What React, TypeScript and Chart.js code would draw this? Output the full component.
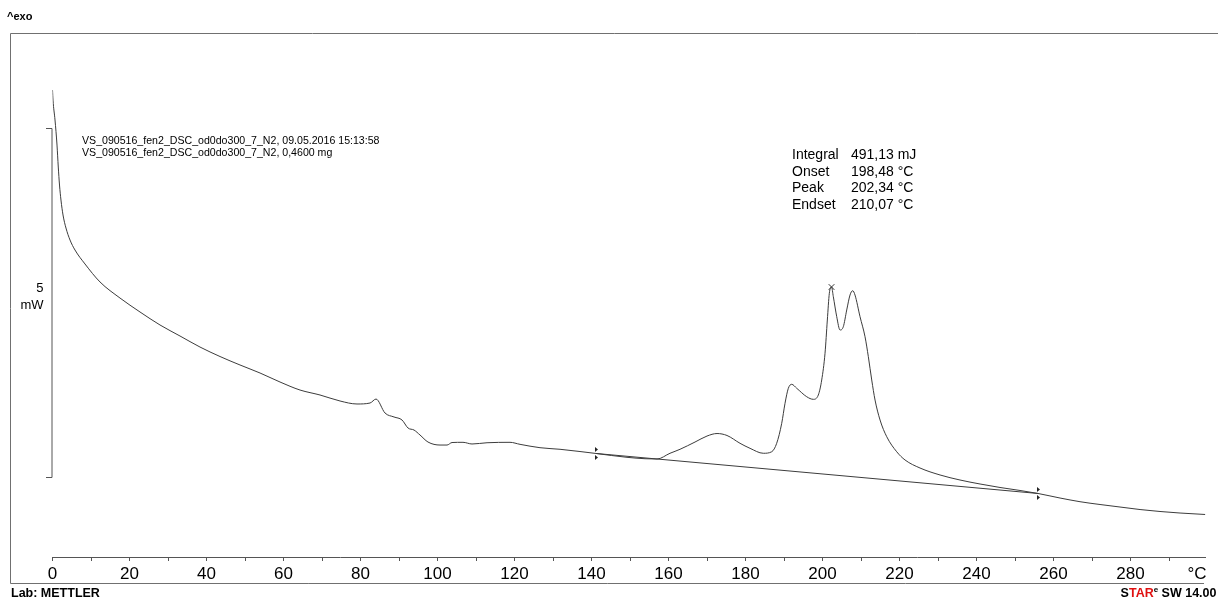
import React, { useEffect, useRef } from "react";
import { Chart, registerables } from "chart.js";

Chart.register(...registerables);

// Temperature (°C) and heat flow (mW, relative)
const temps: number[] = [
  0.0, 0.13, 0.65, 1.17, 1.5, 1.82, 2.2, 2.73, 3.5, 4.55, 5.84, 8.44, 12.34, 17.53, 22.73, 27.92,
  33.12, 38.31, 43.51, 48.7, 53.9, 59.09, 64.29, 69.48, 74.68, 79.09, 82.47, 84.03, 86.36, 88.7,
  90.78, 92.34, 93.9, 95.45, 97.53, 100.65, 102.47, 103.77, 106.62, 108.96, 112.86, 118.83, 121.43,
  126.62, 131.82, 137.01, 141.17, 149.22, 153.9, 157.01, 160.39, 162.99, 166.88, 170.0, 172.6,
  175.19, 178.57, 181.17, 184.62, 186.81, 188.1, 189.4, 190.26, 191.12, 192.0, 193.3, 195.9,
  197.61, 198.91, 199.79, 200.65, 201.25, 201.77, 202.34, 202.81, 203.69, 204.55, 205.4, 206.29,
  207.14, 207.84, 208.44, 209.74, 211.04, 211.9, 212.78, 213.64, 214.94, 216.68, 219.27, 221.43,
  225.32, 230.52, 235.71, 240.91, 246.1, 251.3, 255.97, 261.69, 266.88, 272.08, 277.27, 282.47,
  287.66, 292.86, 299.4,
];
const heatFlow: number[] = [
  5.544, 5.4, 5.115, 4.756, 4.441, 4.183, 3.968, 3.754, 3.567, 3.395, 3.252, 3.052, 2.794, 2.564,
  2.364, 2.178, 2.02, 1.862, 1.726, 1.605, 1.49, 1.361, 1.246, 1.175, 1.089, 1.046, 1.06, 1.117,
  0.917, 0.86, 0.817, 0.702, 0.673, 0.602, 0.501, 0.458, 0.458, 0.494, 0.497, 0.473, 0.491, 0.497,
  0.468, 0.42, 0.397, 0.365, 0.337, 0.282, 0.262, 0.258, 0.34, 0.397, 0.501, 0.587, 0.623, 0.595,
  0.483, 0.411, 0.34, 0.362, 0.483, 0.769, 1.056, 1.271, 1.328, 1.271, 1.15, 1.113, 1.175, 1.39,
  1.772, 2.249, 2.632, 2.722, 2.583, 2.297, 2.106, 2.153, 2.393, 2.607, 2.669, 2.607, 2.297, 2.01,
  1.724, 1.39, 1.103, 0.817, 0.577, 0.362, 0.244, 0.129, 0.029, -0.043, -0.1, -0.15, -0.193,
  -0.236, -0.301, -0.354, -0.394, -0.43, -0.466, -0.494, -0.516, -0.537,
];

// Integration baseline limits [°C, mW]
const baselineTemps: number[] = [141.17, 255.97];
const baselineFlow: number[] = [0.337, -0.236];

// Peak marker
const peakTemp: number[] = [202.34];
const peakFlow: number[] = [2.722];

// Scale bar (mW)
const scaleBar: number[] = [0, 5];

const headerLines: string[] = [
  "VS_090516_fen2_DSC_od0do300_7_N2, 09.05.2016 15:13:58",
  "VS_090516_fen2_DSC_od0do300_7_N2, 0,4600 mg",
];
const resultLabels: string[] = ["Integral", "Onset", "Peak", "Endset"];
const resultValues: string[] = ["491,13 mJ", "198,48 °C", "202,34 °C", "210,07 °C"];

const FONT = "'Liberation Sans', Arial, sans-serif";

const overlay = {
  id: "overlay",
  afterDraw(chart: any) {
    const ctx: CanvasRenderingContext2D = chart.ctx;
    const xs = chart.scales.x;
    const ys = chart.scales.y;
    ctx.save();
    // frame
    ctx.strokeStyle = "#707070";
    ctx.lineWidth = 1;
    ctx.beginPath();
    ctx.moveTo(1218, 33.5);
    ctx.lineTo(10.5, 33.5);
    ctx.lineTo(10.5, 583.5);
    ctx.lineTo(1204, 583.5);
    ctx.stroke();

    ctx.fillStyle = "#000";
    ctx.textBaseline = "middle";
    ctx.textAlign = "left";
    ctx.font = `bold 11px ${FONT}`;
    ctx.fillText("^exo", 7, 17);

    ctx.font = `10.6px ${FONT}`;
    headerLines.forEach((t, i) => ctx.fillText(t, 82, 141 + i * 12));

    ctx.font = `14px ${FONT}`;
    resultLabels.forEach((t, i) => {
      ctx.fillText(t, 792, 155.5 + i * 16.4);
      ctx.fillText(resultValues[i], 851, 155.5 + i * 16.4);
    });

    // scale bar
    const bx = xs.left - 0.5;
    const yTop = Math.round(ys.getPixelForValue(scaleBar[1])) + 0.5;
    const yBot = Math.round(ys.getPixelForValue(scaleBar[0])) + 0.5;
    ctx.strokeStyle = "#555";
    ctx.beginPath();
    ctx.moveTo(bx - 6, yTop);
    ctx.lineTo(bx, yTop);
    ctx.lineTo(bx, yBot);
    ctx.lineTo(bx - 6, yBot);
    ctx.stroke();
    ctx.font = `13px ${FONT}`;
    ctx.textAlign = "right";
    ctx.fillText(String(scaleBar[1] - scaleBar[0]), 43.5, 288);
    ctx.fillText("mW", 43.5, 305);

    // integration limit markers
    ctx.fillStyle = "#222";
    for (let i = 0; i < baselineTemps.length; i++) {
      const px = Math.round(xs.getPixelForValue(baselineTemps[i]));
      const py = ys.getPixelForValue(baselineFlow[i]);
      ctx.beginPath();
      ctx.moveTo(px - 0.5, py - 6);
      ctx.lineTo(px + 2, py - 4);
      ctx.lineTo(px - 0.5, py - 2);
      ctx.closePath();
      ctx.fill();
      ctx.beginPath();
      ctx.moveTo(px - 0.5, py + 2);
      ctx.lineTo(px + 2, py + 4);
      ctx.lineTo(px - 0.5, py + 6);
      ctx.closePath();
      ctx.fill();
      ctx.fillRect(px - 1, py - 6, 1, 4);
      ctx.fillRect(px - 1, py + 2, 1, 4);
    }

    // axis unit
    ctx.fillStyle = "#000";
    ctx.font = `17px ${FONT}`;
    ctx.textAlign = "center";
    ctx.fillText("°C", 1197, 574);

    // footer
    ctx.font = `bold 12.5px ${FONT}`;
    ctx.textAlign = "left";
    ctx.fillText("Lab: METTLER", 11, 594);

    const right = 1216.5;
    const parts: [string, string, number][] = [
      ["S", "#000", 12.5],
      ["TAR", "#e01010", 12.5],
      ["e", "#000", 8],
      [" SW 14.00", "#000", 12.5],
    ];
    let total = 0;
    parts.forEach(([t, , s]) => {
      ctx.font = `bold ${s}px ${FONT}`;
      total += ctx.measureText(t).width;
    });
    let x = right - total;
    parts.forEach(([t, c, s]) => {
      ctx.font = `bold ${s}px ${FONT}`;
      ctx.fillStyle = c;
      ctx.fillText(t, x, s < 10 ? 590 : 594);
      x += ctx.measureText(t).width;
    });
    ctx.restore();
  },
};

export default function App() {
  const ref = useRef<HTMLCanvasElement | null>(null);
  useEffect(() => {
    if (!ref.current) return;
    const curve = temps.map((t, i) => ({ x: t, y: heatFlow[i] }));
    const baseline = baselineTemps.map((t, i) => ({ x: t, y: baselineFlow[i] }));
    const peak = peakTemp.map((t, i) => ({ x: t, y: peakFlow[i] }));
    const chart = new Chart(ref.current, {
      type: "line",
      data: {
        datasets: [
          {
            data: curve,
            borderColor: "#3c3c3c",
            borderWidth: 1,
            pointRadius: 0,
            cubicInterpolationMode: "monotone",
            fill: false,
          },
          {
            data: baseline,
            borderColor: "#3c3c3c",
            borderWidth: 1,
            pointRadius: 0,
            fill: false,
          },
          {
            data: peak,
            showLine: false,
            pointStyle: "crossRot",
            pointRadius: 4,
            borderColor: "#333",
            borderWidth: 1,
          },
        ],
      },
      options: {
        animation: false,
        responsive: false,
        events: [],
        layout: { padding: { left: 52.5, right: 12.4, top: 33, bottom: 0 } },
        plugins: { legend: { display: false }, tooltip: { enabled: false } },
        elements: { line: { tension: 0 } },
        scales: {
          x: {
            type: "linear",
            min: 0,
            max: 299.5,
            afterFit: (s: any) => {
              s.height = 43;
            },
            border: { display: true, color: "#555", width: 1 },
            grid: { drawOnChartArea: false, drawTicks: true, tickLength: 4, color: "#555" },
            ticks: {
              stepSize: 10,
              includeBounds: false,
              autoSkip: false,
              maxRotation: 0,
              padding: 3,
              color: "#000",
              font: { family: FONT, size: 17 },
              callback: (v: any) => (Number(v) % 20 === 0 ? String(v) : ""),
            },
          },
          y: {
            type: "linear",
            display: false,
            min: -1.146,
            max: 6.361,
          },
        },
      },
      plugins: [overlay],
    } as any);
    return () => chart.destroy();
  }, []);
  return (
    <div style={{ position: "fixed", left: 0, top: 0, width: 1218, height: 600, background: "#fff" }}>
      <canvas ref={ref} width={1218} height={600} style={{ display: "block" }} />
    </div>
  );
}
